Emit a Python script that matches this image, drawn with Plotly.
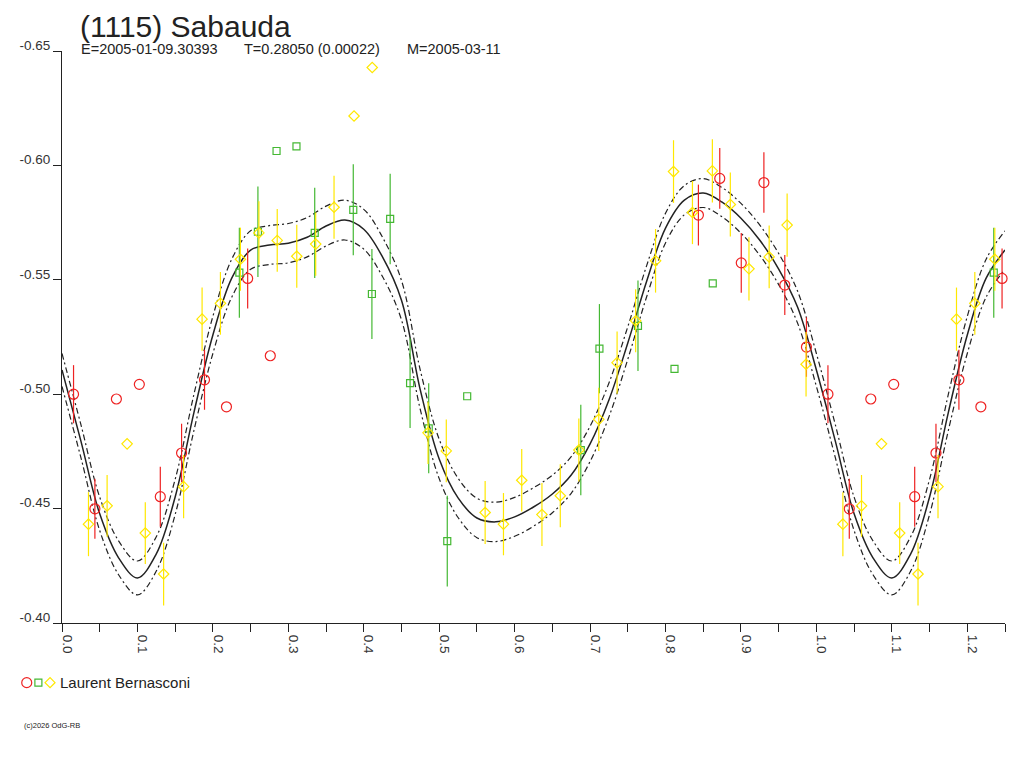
import plotly.graph_objects as go

title = "(1115) Sabauda"
subtitle_parts = ["E=2005-01-09.30393", "T=0.28050 (0.00022)", "M=2005-03-11"]
observer = "Laurent Bernasconi"
credit = "(c)2026 OdG-RB"

# red circles (phase, reduced mag, error)
red_phase = [0.0153, 0.0436, 0.0721, 0.1025, 0.1303, 0.1585, 0.1889, 0.2180,
             0.2461, 0.2761, 0.8436, 0.8719, 0.9004, 0.9304, 0.9581, 0.9868]
red_mag = [-0.5000, -0.4499, -0.4979, -0.5043, -0.4552, -0.4743, -0.5063, -0.4945,
           -0.5506, -0.5168, -0.5783, -0.5943, -0.5574, -0.5925, -0.5477, -0.5206]
red_err = [0.0127, 0.0131, 0, 0, 0.0131, 0.0128, 0.0131, 0,
           0.0131, 0, 0.0133, 0.0133, 0.0131, 0.0132, 0.0131, 0.0130]

# green squares
green_phase = [0.2351, 0.2597, 0.2844, 0.3108, 0.3350, 0.3861, 0.4108, 0.4350, 0.4614,
               0.4861, 0.5107, 0.5371, 0.6877, 0.7124, 0.7635, 0.8119, 0.8626]
green_mag = [-0.5531, -0.5710, -0.6063, -0.6083, -0.5705, -0.5806, -0.5438, -0.5766, -0.5048,
             -0.4851, -0.4358, -0.4991, -0.4756, -0.5199, -0.5299, -0.5111, -0.5484]
green_err = [0.0197, 0.0198, 0, 0, 0.0197, 0.0199, 0.0197, 0.0198, 0.0196,
             0.0197, 0.0198, 0, 0.0198, 0.0195, 0.0198, 0, 0]

# yellow diamonds
yellow_phase = [0.0351, 0.0598, 0.0863, 0.1104, 0.1347, 0.1612, 0.1857, 0.2100, 0.2365,
                0.2610, 0.2853, 0.3112, 0.3363, 0.3606, 0.3871, 0.4112, 0.4852, 0.5094,
                0.5609, 0.5852, 0.6094, 0.6362, 0.6605, 0.6851, 0.7115, 0.7358, 0.7604,
                0.7868, 0.8106, 0.8357, 0.8621, 0.8859, 0.9106, 0.9374, 0.9612, 0.9863]
yellow_mag = [-0.4432, -0.4512, -0.4783, -0.4393, -0.4214, -0.4596, -0.5328, -0.5397, -0.5590,
              -0.5705, -0.5672, -0.5603, -0.5656, -0.5817, -0.6216, -0.6428, -0.4831, -0.4752,
              -0.4483, -0.4432, -0.4624, -0.4474, -0.4556, -0.4756, -0.4890, -0.5138, -0.5321,
              -0.5583, -0.5973, -0.5794, -0.5976, -0.5829, -0.5548, -0.5600, -0.5739, -0.5131]
yellow_err = [0.0140, 0.0135, 0, 0.0135, 0.0137, 0.0138, 0.0138, 0.0137, 0.0138,
              0.0138, 0.0137, 0.0138, 0.0138, 0.0138, 0, 0, 0.0136, 0.0137,
              0.0138, 0.0136, 0.0137, 0.0138, 0.0138, 0.0138, 0.0138, 0.0136, 0.0138,
              0.0139, 0.0137, 0.0138, 0.0138, 0.0140, 0.0138, 0.0137, 0.0138, 0.0141]

# fitted light curve and its uncertainty
fit_phase = [0.000, 0.025, 0.050, 0.075, 0.100, 0.125, 0.150, 0.175, 0.200, 0.225,
             0.250, 0.275, 0.300, 0.325, 0.350, 0.375, 0.400, 0.425, 0.450, 0.475,
             0.500, 0.525, 0.550, 0.575, 0.600, 0.625, 0.650, 0.675, 0.700, 0.725,
             0.750, 0.775, 0.800, 0.825, 0.850, 0.875, 0.900, 0.925, 0.950, 0.975]
fit_mag = [-0.5106, -0.4796, -0.4477, -0.4285, -0.4197, -0.4302, -0.4551, -0.4922, -0.5259, -0.5507,
           -0.5630, -0.5652, -0.5660, -0.5686, -0.5735, -0.5761, -0.5721, -0.5599, -0.5411, -0.5018,
           -0.4717, -0.4547, -0.4459, -0.4442, -0.4464, -0.4507, -0.4564, -0.4647, -0.4783, -0.4975,
           -0.5224, -0.5494, -0.5726, -0.5848, -0.5879, -0.5839, -0.5769, -0.5673, -0.5547, -0.5381]
fit_err = [0.0072, 0.0072, 0.0073, 0.0074, 0.0074, 0.0075, 0.0077, 0.0079, 0.0081, 0.0083,
           0.0084, 0.0085, 0.0086, 0.0086, 0.0087, 0.0087, 0.0087, 0.0086, 0.0086, 0.0086,
           0.0086, 0.0086, 0.0086, 0.0086, 0.0085, 0.0084, 0.0082, 0.0080, 0.0077, 0.0074,
           0.0071, 0.0068, 0.0065, 0.0064, 0.0063, 0.0064, 0.0065, 0.0066, 0.0068, 0.0070]

y_ticks = [-0.65, -0.60, -0.55, -0.50, -0.45, -0.40]

RED = "#ee2222"
GREEN = "#44b833"
YELLOW = "#ffe800"
INK = "#222222"


def fold(phase, cols, limit=0.25, inclusive=False):
    """ repeat the start of the cycle after phase 1 """
    px = list(phase)
    out = [list(c) for c in cols]
    for i, p in enumerate(phase):
        if p < limit or (inclusive and p <= limit):
            px.append(p + 1)
            for o, c in zip(out, cols):
                o.append(c[i])
    return px, out


fig = go.Figure()

fx, (fm, fe) = fold(fit_phase, [fit_mag, fit_err], inclusive=True)
upper = [m - e for m, e in zip(fm, fe)]
lower = [m + e for m, e in zip(fm, fe)]
for ys, dash, w in [(upper, "6px,3px,2px,3px", 1.2), (lower, "6px,3px,2px,3px", 1.2), (fm, "solid", 1.5)]:
    fig.add_trace(go.Scatter(x=fx, y=ys, mode="lines",
                             line=dict(color=INK, width=w, dash=dash, shape="spline", smoothing=1),
                             hoverinfo="skip", showlegend=False))

series = [
    (red_phase, red_mag, red_err, RED, "circle-open", 10),
    (green_phase, green_mag, green_err, GREEN, "square-open", 7),
    (yellow_phase, yellow_mag, yellow_err, YELLOW, "diamond-open", 8),
]
for ph, mg, er, col, sym, size in series:
    x, (y, e) = fold(ph, [mg, er])
    fig.add_trace(go.Scatter(
        x=x, y=y, mode="markers",
        marker=dict(symbol=sym, size=size, color=col, line=dict(color=col, width=1.2)),
        error_y=dict(type="data", array=e, visible=True, color=col, thickness=1.2, width=0),
        showlegend=False, cliponaxis=False))

# page coordinates of the plot area (the page body adds 8px)
PLOT_L, PLOT_R, PLOT_T, PLOT_B = 58.7, 1005.3, 50.7, 623.3
PLOT_W = PLOT_R - PLOT_L
PLOT_H = PLOT_B - PLOT_T
BODY = 8


def px_to_paper(px, py):
    return (px - PLOT_L) / PLOT_W, (PLOT_B - py) / PLOT_H


# legend drawn by hand below the plot
shapes = []
lx, ly = px_to_paper(23.3, 683)
shapes.append(dict(type="circle", xref="paper", yref="paper", xsizemode="pixel", ysizemode="pixel",
                   xanchor=lx, yanchor=ly, x0=-5, x1=5, y0=-5, y1=5, line=dict(color=RED, width=1.2)))
lx, ly = px_to_paper(35, 683)
shapes.append(dict(type="rect", xref="paper", yref="paper", xsizemode="pixel", ysizemode="pixel",
                   xanchor=lx, yanchor=ly, x0=-3.5, x1=3.5, y0=-3.5, y1=3.5, line=dict(color=GREEN, width=1.2)))
lx, ly = px_to_paper(46.7, 683)
shapes.append(dict(type="path", xref="paper", yref="paper", xsizemode="pixel", ysizemode="pixel",
                   xanchor=lx, yanchor=ly, path="M -5 0 L 0 5 L 5 0 L 0 -5 Z", line=dict(color=YELLOW, width=1.2)))

annotations = []
tx, ty = px_to_paper(76, 8.5)
annotations.append(dict(text=title, x=tx, y=ty, xref="paper", yref="paper",
                        xanchor="left", yanchor="top", showarrow=False, borderpad=0,
                        font=dict(size=30, color="#222222")))
texts = [(subtitle_parts[0], 76, 49, 14.5), (subtitle_parts[1], 239, 49, 14.5),
         (subtitle_parts[2], 403.5, 49, 14.5),
         (observer, 55, 683, 15), (credit, 18.5, 725.5, 7.5)]
for text, px, py, size in texts:
    ax, ay = px_to_paper(px, py)
    annotations.append(dict(text=text, x=ax, y=ay, xref="paper", yref="paper",
                            xanchor="left", yanchor="middle", showarrow=False,
                            font=dict(size=size, color="#222222")))

fig.update_layout(
    width=1024, height=768, autosize=False,
    margin=dict(l=PLOT_L - BODY, r=1024 + BODY - PLOT_R, t=PLOT_T - BODY, b=768 + BODY - PLOT_B),
    paper_bgcolor="white", plot_bgcolor="white",
    font=dict(family="Liberation Sans, Arial, sans-serif", color="#333333"),
    shapes=shapes, annotations=annotations,
    xaxis=dict(range=[0, 1.25], tick0=0, dtick=0.1, tickformat=".1f", tickangle=90,
               ticks="outside", ticklen=8, tickcolor=INK, showline=True, linecolor=INK,
               showgrid=False, zeroline=False, tickfont=dict(size=13.5, color="#333333"),
               ticklabelshift=5,
               minor=dict(dtick=0.05, ticks="outside", ticklen=8, tickcolor=INK, showgrid=False)),
    yaxis=dict(range=[-0.40, -0.65], tickvals=y_ticks, ticktext=[f"{v:.2f}" for v in y_ticks],
               ticks="outside", ticklen=8, tickcolor=INK, showline=True, linecolor=INK,
               showgrid=False, zeroline=False, tickfont=dict(size=13.5, color="#333333"),
               ticklabelshift=6),
)

fig.write_html("out.html")
